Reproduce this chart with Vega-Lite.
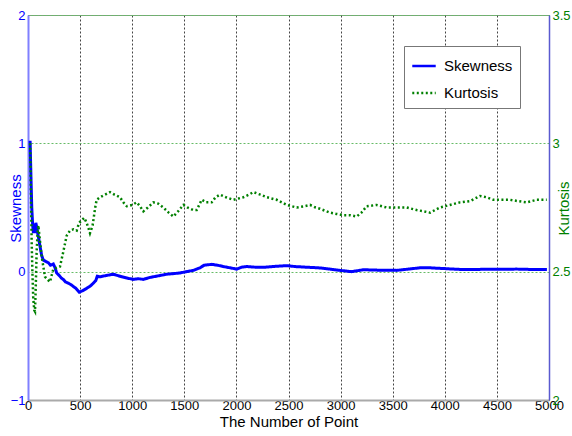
{
  "$schema": "https://vega.github.io/schema/vega-lite/v6.json",
  "autosize": {"type": "none"},
  "width": 521,
  "height": 385,
  "padding": {"left": 28, "top": 15, "right": 23, "bottom": 36},
  "background": "white",
  "config": {
    "view": {"stroke": "#7f9f7f", "strokeWidth": 1},
    "font": "Liberation Sans",
    "axis": {"labelFont": "Liberation Sans", "titleFont": "Liberation Sans", "titleFontWeight": "normal", "labelFontSize": 13, "titleFontSize": 15}
  },
  "layer": [
    {
      "data": {"values": [
        {"x":20,"v":1.02},{"x":28,"v":0.75},{"x":36,"v":0.5},{"x":45,"v":0.36},{"x":52,"v":0.3},{"x":60,"v":0.37},{"x":67,"v":0.3},{"x":75,"v":0.38},{"x":83,"v":0.35},{"x":100,"v":0.27},{"x":115,"v":0.2},{"x":130,"v":0.13},{"x":147,"v":0.09},{"x":170,"v":0.08},{"x":195,"v":0.07},{"x":215,"v":0.05},{"x":243,"v":0.06},{"x":260,"v":0.03},{"x":275,"v":-0.01},{"x":300,"v":-0.03},{"x":320,"v":-0.05},{"x":339,"v":-0.06},{"x":360,"v":-0.08},{"x":387,"v":-0.09},{"x":410,"v":-0.1},{"x":435,"v":-0.115},{"x":460,"v":-0.13},{"x":492,"v":-0.16},{"x":520,"v":-0.15},{"x":563,"v":-0.13},{"x":600,"v":-0.11},{"x":627,"v":-0.09},{"x":650,"v":-0.07},{"x":665,"v":-0.035},{"x":691,"v":-0.04},{"x":750,"v":-0.03},{"x":819,"v":-0.02},{"x":900,"v":-0.04},{"x":950,"v":-0.05},{"x":1011,"v":-0.06},{"x":1060,"v":-0.055},{"x":1107,"v":-0.06},{"x":1170,"v":-0.045},{"x":1235,"v":-0.035},{"x":1300,"v":-0.025},{"x":1331,"v":-0.02},{"x":1400,"v":-0.015},{"x":1459,"v":-0.01},{"x":1520,"v":0.0},{"x":1587,"v":0.01},{"x":1650,"v":0.03},{"x":1690,"v":0.05},{"x":1763,"v":0.057},{"x":1820,"v":0.05},{"x":1875,"v":0.04},{"x":1940,"v":0.03},{"x":2003,"v":0.02},{"x":2050,"v":0.035},{"x":2099,"v":0.04},{"x":2180,"v":0.035},{"x":2259,"v":0.034},{"x":2350,"v":0.04},{"x":2483,"v":0.047},{"x":2560,"v":0.04},{"x":2642,"v":0.036},{"x":2720,"v":0.033},{"x":2802,"v":0.029},{"x":2898,"v":0.02},{"x":2994,"v":0.01},{"x":3106,"v":0.0},{"x":3218,"v":0.015},{"x":3350,"v":0.012},{"x":3538,"v":0.01},{"x":3650,"v":0.02},{"x":3762,"v":0.03},{"x":3858,"v":0.03},{"x":4018,"v":0.023},{"x":4178,"v":0.016},{"x":4350,"v":0.018},{"x":4500,"v":0.018},{"x":4690,"v":0.02},{"x":4850,"v":0.017},{"x":4980,"v":0.016}
      ]},
      "mark": {"type": "line", "strokeWidth": 3, "clip": true},
      "encoding": {
        "x": {"field": "x", "type": "quantitative", "scale": {"domain": [0, 5000], "nice": false},
          "axis": {"values": [0,500,1000,1500,2000,2500,3000,3500,4000,4500,5000], "format": "d", "title": "The Number of Point", "titleColor": "black", "titleFontSize": 15, "titlePadding": 2, "labelColor": "black", "labelPadding": -1, "ticks": false, "domainColor": "#aaaaaa", "domainWidth": 2, "grid": true, "gridColor": "#444444", "gridDash": [2, 2], "gridWidth": 1, "labelFlush": false}},
        "y": {"field": "v", "type": "quantitative", "scale": {"domain": [-1, 2], "nice": false},
          "axis": {"values": [-1, 0, 1, 2], "format": "~g", "title": "Skewness", "titleColor": "#0000ff", "titleX": -13, "titleY": 193, "titleAngle": -90, "titleBaseline": "middle", "titleAlign": "center", "labelColor": "#0000ff", "labelPadding": 3, "ticks": false, "grid": false, "domainColor": "#8080ff", "domainWidth": 2}},
        "color": {"datum": "Skewness", "type": "nominal", "scale": {"domain": ["Skewness", "Kurtosis"], "range": ["#0000ff", "#008000"]},
          "legend": {"title": null, "orient": "none", "legendX": 376, "legendY": 31, "symbolType": "stroke", "symbolSize": 550, "symbolStrokeWidth": 2.5, "labelFontSize": 15, "labelFont": "Liberation Sans", "labelColor": "black", "strokeColor": "#777777", "fillColor": "white", "padding": 7, "rowPadding": 6, "labelOffset": 7}},
        "strokeDash": {"datum": "Skewness", "type": "nominal", "scale": {"domain": ["Skewness", "Kurtosis"], "range": [[1, 0], [2, 2.5]]}, "legend": null}
      }
    },
    {
      "data": {"values": [
        {"x":20,"v":3.0},{"x":25,"v":2.9},{"x":30,"v":2.75},{"x":35,"v":2.62},{"x":42,"v":2.5},{"x":50,"v":2.4},{"x":60,"v":2.35},{"x":67,"v":2.345},{"x":75,"v":2.45},{"x":83,"v":2.58},{"x":92,"v":2.65},{"x":99,"v":2.68},{"x":107,"v":2.65},{"x":115,"v":2.62},{"x":131,"v":2.56},{"x":147,"v":2.52},{"x":163,"v":2.48},{"x":185,"v":2.47},{"x":211,"v":2.46},{"x":230,"v":2.49},{"x":243,"v":2.51},{"x":275,"v":2.515},{"x":307,"v":2.52},{"x":340,"v":2.58},{"x":371,"v":2.64},{"x":403,"v":2.66},{"x":435,"v":2.665},{"x":467,"v":2.66},{"x":490,"v":2.69},{"x":515,"v":2.7},{"x":540,"v":2.71},{"x":563,"v":2.69},{"x":580,"v":2.67},{"x":595,"v":2.65},{"x":620,"v":2.68},{"x":645,"v":2.75},{"x":659,"v":2.78},{"x":691,"v":2.79},{"x":740,"v":2.8},{"x":787,"v":2.81},{"x":830,"v":2.8},{"x":883,"v":2.79},{"x":915,"v":2.77},{"x":947,"v":2.755},{"x":1000,"v":2.76},{"x":1043,"v":2.77},{"x":1075,"v":2.755},{"x":1107,"v":2.735},{"x":1150,"v":2.75},{"x":1203,"v":2.77},{"x":1250,"v":2.765},{"x":1299,"v":2.75},{"x":1350,"v":2.73},{"x":1395,"v":2.715},{"x":1440,"v":2.735},{"x":1491,"v":2.76},{"x":1530,"v":2.75},{"x":1587,"v":2.74},{"x":1619,"v":2.74},{"x":1667,"v":2.78},{"x":1710,"v":2.77},{"x":1763,"v":2.77},{"x":1800,"v":2.79},{"x":1843,"v":2.8},{"x":1900,"v":2.79},{"x":1971,"v":2.78},{"x":2020,"v":2.785},{"x":2067,"v":2.79},{"x":2120,"v":2.8},{"x":2163,"v":2.81},{"x":2230,"v":2.8},{"x":2291,"v":2.79},{"x":2387,"v":2.78},{"x":2483,"v":2.76},{"x":2579,"v":2.75},{"x":2650,"v":2.755},{"x":2706,"v":2.76},{"x":2760,"v":2.75},{"x":2802,"v":2.745},{"x":2898,"v":2.73},{"x":2960,"v":2.725},{"x":3026,"v":2.72},{"x":3090,"v":2.72},{"x":3154,"v":2.715},{"x":3200,"v":2.73},{"x":3250,"v":2.755},{"x":3346,"v":2.76},{"x":3442,"v":2.75},{"x":3540,"v":2.75},{"x":3634,"v":2.75},{"x":3730,"v":2.74},{"x":3800,"v":2.735},{"x":3858,"v":2.73},{"x":3954,"v":2.75},{"x":4050,"v":2.76},{"x":4146,"v":2.77},{"x":4242,"v":2.775},{"x":4338,"v":2.795},{"x":4400,"v":2.79},{"x":4466,"v":2.78},{"x":4540,"v":2.78},{"x":4626,"v":2.78},{"x":4700,"v":2.775},{"x":4786,"v":2.77},{"x":4882,"v":2.78},{"x":4978,"v":2.78}
      ]},
      "mark": {"type": "line", "strokeWidth": 2.5, "clip": true},
      "encoding": {
        "x": {"field": "x", "type": "quantitative", "scale": {"domain": [0, 5000], "nice": false}},
        "y": {"field": "v", "type": "quantitative", "scale": {"domain": [2, 3.5], "nice": false},
          "axis": {"orient": "right", "values": [2, 2.5, 3, 3.5], "format": "~g", "title": "Kurtosis", "titleColor": "#008000", "titleX": 14, "titleY": 193, "titleAngle": -90, "titleBaseline": "middle", "titleAlign": "center", "labelColor": "#008000", "labelPadding": 3, "ticks": false, "domainColor": "#5a5ad0", "domainWidth": 1.5, "grid": true, "gridColor": "#66bb66", "gridDash": [2, 2], "gridWidth": 1}},
        "color": {"datum": "Kurtosis", "type": "nominal"},
        "strokeDash": {"datum": "Kurtosis", "type": "nominal"}
      }
    }
  ],
  "resolve": {"scale": {"y": "independent"}}
}
